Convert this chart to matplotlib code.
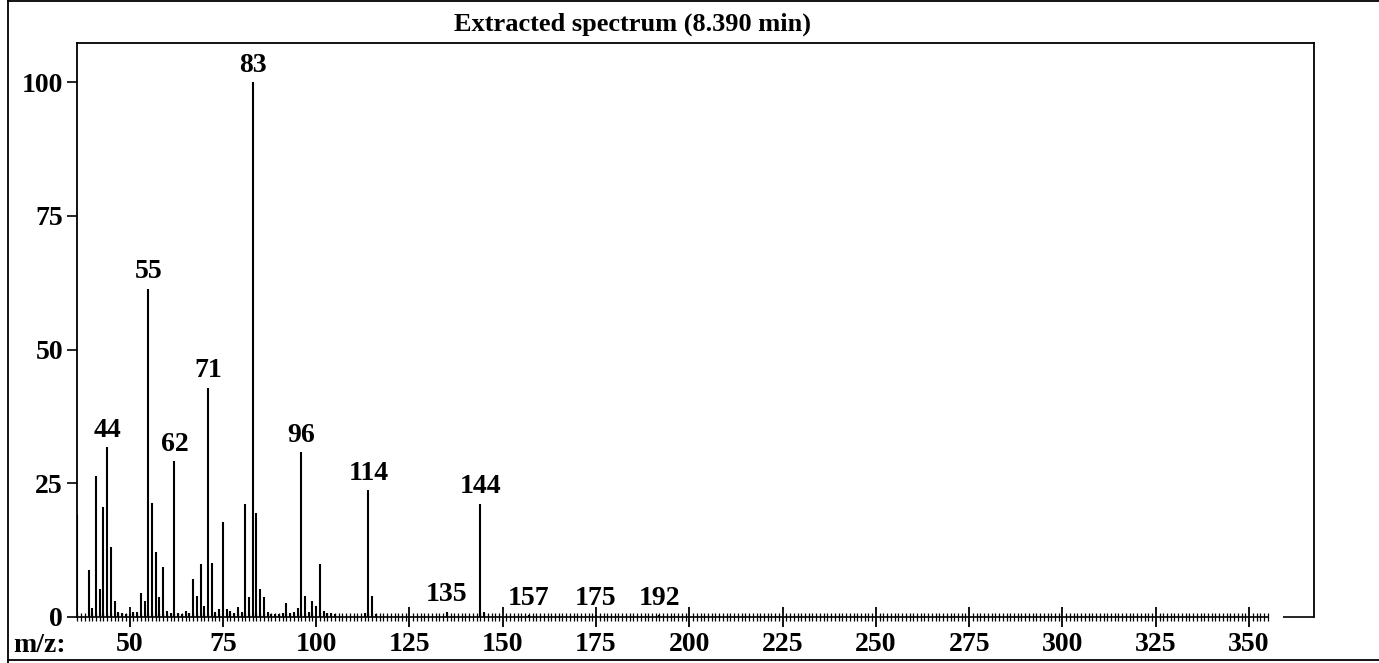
#!/usr/bin/env python3
"""Stick plot of the mass spectrum extracted at 8.390 min."""

import matplotlib

matplotlib.use("Agg")
import matplotlib.pyplot as plt
from matplotlib.lines import Line2D
from matplotlib.ticker import FixedLocator
import numpy as np


# m/z and relative abundance (%) of each peak
MZ = [36, 39, 40, 41, 42, 43, 44, 45, 46, 47, 48, 49, 50, 51, 52, 53, 54, 55,
      56, 57, 58, 59, 60, 61, 62, 63, 64, 65, 66, 67, 68, 69, 70, 71, 72, 73,
      74, 75, 76, 77, 78, 79, 80, 81, 82, 83, 84, 85, 86, 87, 88, 89, 90, 91,
      92, 93, 94, 95, 96, 97, 98, 99, 100, 101, 102, 103, 104, 105, 113, 114,
      115, 116, 135, 144, 145, 157, 175, 192]
ABUNDANCE = [19.0, 8.7, 1.7, 26.4, 5.2, 20.6, 31.8, 13.1, 2.9, 1.0, 0.8, 0.5,
             0.5, 1.0, 1.0, 4.5, 2.9, 61.4, 21.4, 12.2, 3.7, 9.3, 1.2, 0.8,
             29.2, 0.8, 0.6, 1.2, 0.8, 7.1, 3.9, 10.0, 2.0, 42.9, 10.1, 1.0,
             1.5, 17.8, 1.5, 1.2, 0.8, 1.8, 1.0, 21.1, 3.7, 100.0, 19.4, 5.2,
             3.7, 1.0, 0.6, 0.6, 0.5, 0.8, 2.7, 0.8, 1.0, 1.7, 30.9, 4.0, 1.0,
             3.0, 2.0, 10.0, 1.2, 0.8, 0.8, 0.6, 0.8, 23.8, 3.9, 0.6, 1.0,
             21.2, 1.0, 0.4, 0.4, 0.4]
LABELLED = [44, 55, 62, 71, 83, 96, 114, 135, 144, 157, 175, 192]

X_TICKS = [50, 75, 100, 125, 150, 175, 200, 225, 250, 275, 300, 325, 350]
Y_TICKS = [0, 25, 50, 75, 100]
TITLE = "Extracted spectrum (8.390 min)"

W, H = 1379, 663
SERIF = ["Liberation Serif", "DejaVu Serif"]

plt.rcParams.update({
    "font.family": SERIF,
    "font.weight": "bold",
    "font.size": 20,
})

fig = plt.figure(figsize=(W / 100, H / 100), dpi=100)
ax = fig.add_axes([77 / W, 1 - 617 / H, (1314 - 77) / W, (617 - 43) / H])

ax.vlines(MZ, 0, ABUNDANCE, color="black", linewidth=1.5)
heights = dict(zip(MZ, ABUNDANCE))
for mz in LABELLED:
    ax.annotate(str(mz), (mz, heights[mz]), xytext=(0, 3),
                textcoords="offset points", ha="center", va="bottom",
                fontsize=20, fontweight="bold")

ax.set_xlim(35.9, 367.4)
ax.set_ylim(0, 107.3)

# m/z axis drawn only as far as the scan range reaches
ax.spines["bottom"].set_bounds(35.9, 355)
ax.spines["bottom"].set_linewidth(1.2)
ax.hlines(0, 359, 367.4, color="black", linewidth=1.2, clip_on=False)
for side in ("left", "top", "right"):
    ax.spines[side].set_linewidth(1.3)

ax.xaxis.set_major_locator(FixedLocator(X_TICKS))
ax.xaxis.set_minor_locator(FixedLocator(np.arange(36, 356)))
ax.set_xticklabels([str(t) for t in X_TICKS])
ax.tick_params(axis="x", which="major", direction="inout", length=14,
               width=1.3, pad=4, labelsize=20)
ax.tick_params(axis="x", which="minor", direction="inout", length=6,
               width=0.9)
ax.set_yticks(Y_TICKS)
ax.tick_params(axis="y", direction="out", length=7, width=1.2, pad=3,
               labelsize=20)
for label in ax.get_xticklabels() + ax.get_yticklabels():
    label.set_fontweight("bold")

fig.text(632 / W, 1 - 24 / H, TITLE, ha="center", va="center",
         fontsize=19, fontweight="bold")
fig.text(13 / W, 1 - 646 / H, "m/z:", ha="left", va="center",
         fontsize=20, fontweight="bold")

# outer frame of the report panel
for xs, ys in (([8 / W, 1], [1 - 1 / H, 1 - 1 / H]),
               ([8 / W, 8 / W], [0, 1]),
               ([8 / W, 1], [1 - 660 / H, 1 - 660 / H])):
    fig.add_artist(Line2D(xs, ys, color="black", linewidth=1.3))

fig.savefig("out.png", dpi=100)
